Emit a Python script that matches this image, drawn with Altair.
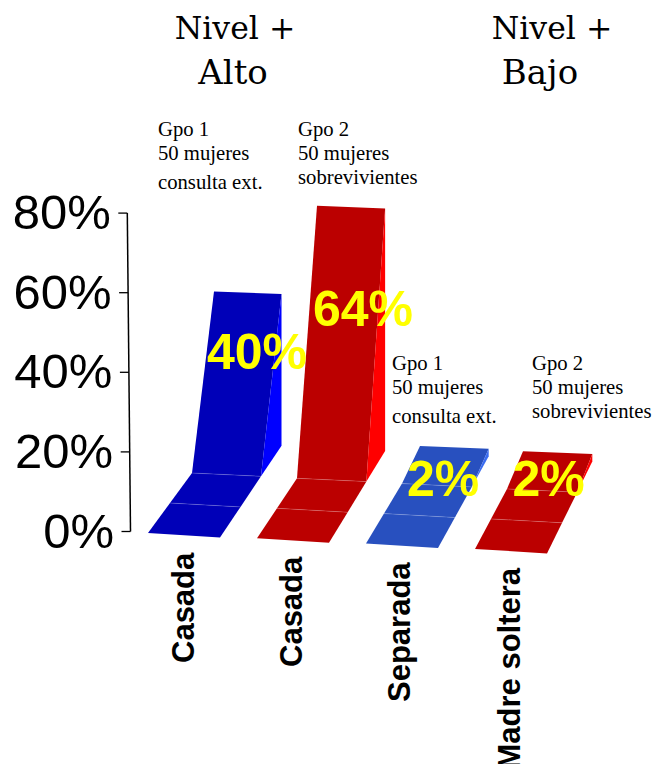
import altair as alt
import pandas as pd

# Chart values
categories = ["Casada", "Casada", "Separada", "Madre soltera"]
values = [40, 64, 2, 2]
y_ticks = [0, 20, 40, 60, 80]
face_colors = ["#0000B8", "#BB0000", "#2850BF", "#BB0000"]
side_colors = ["#0000FF", "#FF0000", "#3A6CF0", "#FF0000"]
depth_steps = [0, 1, 2, 3]


# Oblique projection of (category, depth, value) onto the drawing plane
def project(c, d, v, right=False):
    x = 148 + 109 * c + (22 - 2 * c) * d
    y = 533 + 5.3 * c - 30 * d - 3.79 * v
    if right:
        x += 72 - (1.5 - 0.2 * c) * d
        y += 4.5 - 0.6 * d
    return x, y


def ribbon_value(c, d):
    # each ribbon stays on the floor and reaches its value at the last step
    return values[c] if d == depth_steps[-1] else 0


def add_polygon(rows, name, color, corners):
    for i, (x, y) in enumerate(corners):
        rows.append({"poly": name, "color": color, "i": i, "x": x, "y": y})


poly_rows = []
seam_rows = []
for c in range(len(values)):
    for d0, d1 in zip(depth_steps[:-1], depth_steps[1:]):
        v0, v1 = ribbon_value(c, d0), ribbon_value(c, d1)
        add_polygon(
            poly_rows,
            f"face-{c}-{d0}",
            face_colors[c],
            [
                project(c, d0, v0),
                project(c, d0, v0, True),
                project(c, d1, v1, True),
                project(c, d1, v1),
            ],
        )
    last = depth_steps[-1]
    add_polygon(
        poly_rows,
        f"side-{c}",
        side_colors[c],
        [
            project(c, last - 1, 0, True),
            project(c, last, 0, True),
            project(c, last, values[c], True),
        ],
    )
    for d in depth_steps[1:-1]:
        x0, y0 = project(c, d, 0)
        x1, y1 = project(c, d, 0, True)
        seam_rows.append({"x": x0, "y": y0, "x2": x1, "y2": y1})

polys = pd.DataFrame(poly_rows)
seams = pd.DataFrame(seam_rows)

x_scale = alt.Scale(domain=[0, 656], range=[0, 656], nice=False, zero=False)
y_scale = alt.Scale(domain=[764, 0], range=[764, 0], nice=False, zero=False)
X = alt.X("x:Q", scale=x_scale, axis=None)
Y = alt.Y("y:Q", scale=y_scale, axis=None)

layers = []

# Ribbon faces, one layer per fill colour
for color in list(dict.fromkeys(face_colors + side_colors)):
    layers.append(
        alt.Chart(polys[polys["color"] == color])
        .mark_line(fill=color, strokeWidth=0, stroke=color, strokeOpacity=0)
        .encode(x=X, y=Y, detail="poly:N", order="i:Q")
    )

# Faint creases where the ribbon changes direction
layers.append(
    alt.Chart(seams)
    .mark_rule(color="#FFFFFF", strokeWidth=0.7, opacity=0.25)
    .encode(x=X, y=Y, x2="x2:Q", y2="y2:Q")
)

# Value axis: a slightly leaning spine with ticks and labels
axis_x = lambda v: 130.5 - v * 3.2 / 80
axis_y = lambda v: 531.5 - v * 3.98
spine = pd.DataFrame(
    [{"x": axis_x(0), "y": axis_y(0), "x2": axis_x(80), "y2": axis_y(80)}]
)
ticks = pd.DataFrame(
    [
        {
            "x": axis_x(v) - 9,
            "y": axis_y(v),
            "x2": axis_x(v),
            "y2": axis_y(v),
            "lx": axis_x(v) - 16.5,
            "label": f"{v}%",
        }
        for v in y_ticks
    ]
)
layers.append(
    alt.Chart(spine)
    .mark_rule(color="#000000", strokeWidth=1.5)
    .encode(x=X, y=Y, x2="x2:Q", y2="y2:Q")
)
layers.append(
    alt.Chart(ticks)
    .mark_rule(color="#000000", strokeWidth=1.3)
    .encode(x=X, y=Y, x2="x2:Q", y2="y2:Q")
)
layers.append(
    alt.Chart(ticks)
    .mark_text(
        font="Liberation Sans", fontSize=49, align="right", baseline="middle", dy=1
    )
    .encode(x=alt.X("lx:Q", scale=x_scale, axis=None), y=Y, text="label:N")
)


def text_layer(text, x, y, **mark):
    return (
        alt.Chart(pd.DataFrame({"t": [text]}))
        .mark_text(**mark)
        .encode(x=alt.value(x), y=alt.value(y), text="t:N")
    )


# Group headings
for text, x, y, size in [
    ("Nivel +", 235, 30, 31.5),
    ("Alto", 233, 74, 34),
    ("Nivel +", 552, 30, 31.5),
    ("Bajo", 540, 74, 34),
]:
    layers.append(
        text_layer(
            text,
            x,
            y,
            font="DejaVu Serif",
            fontSize=size,
            align="center",
            baseline="middle",
            color="#000000",
        )
    )

# Sample descriptions
for text, x, y in [
    ("Gpo 1", 158, 136),
    ("50 mujeres", 158, 160),
    ("consulta ext.", 158, 189),
    ("Gpo 2", 298, 136),
    ("50 mujeres", 298, 160),
    ("sobrevivientes", 298, 184),
    ("Gpo 1", 392, 370),
    ("50 mujeres", 392, 394),
    ("consulta ext.", 392, 423),
    ("Gpo 2", 532, 370),
    ("50 mujeres", 532, 394),
    ("sobrevivientes", 532, 418),
]:
    layers.append(
        text_layer(
            text,
            x,
            y,
            font="Liberation Serif",
            fontSize=20.7,
            align="left",
            baseline="alphabetic",
            color="#000000",
        )
    )

# Category names, reading upward
for name, x, y in zip(categories, [184.5, 292.5, 400.5, 510.5], [663, 667, 702, 769.5]):
    layers.append(
        text_layer(
            name,
            x,
            y,
            font="Liberation Sans",
            fontWeight="bold",
            fontSize=31,
            angle=270,
            align="left",
            baseline="middle",
            color="#000000",
        )
    )

# Value labels on the ribbons
for val, x, y in zip(values, [257, 363, 443, 548.5], [354, 311, 481, 481]):
    layers.append(
        text_layer(
            f"{val}%",
            x,
            y,
            font="Liberation Sans",
            fontWeight="bold",
            fontSize=50,
            align="center",
            baseline="middle",
            color="#FFFF00",
        )
    )

chart = (
    alt.layer(*layers)
    .properties(
        width=656,
        height=764,
        padding=0,
        autosize=alt.AutoSizeParams(type="none"),
        background="#FFFFFF",
    )
    .configure_view(stroke=None)
)

chart.save("out.html", embed_options={"renderer": "svg", "actions": False})
